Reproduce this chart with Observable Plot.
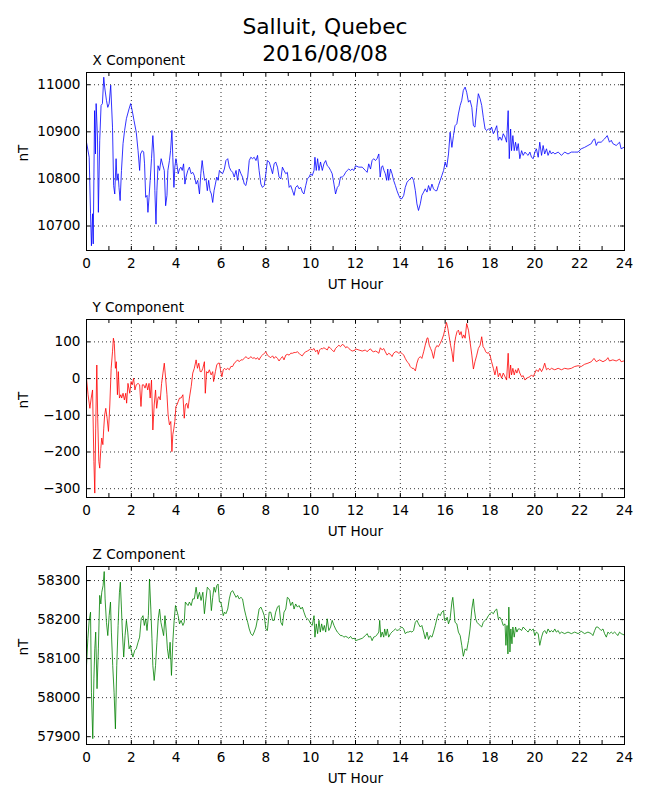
<!DOCTYPE html>
<html>
<head>
<meta charset="utf-8">
<script src="https://cdn.jsdelivr.net/npm/d3@7"></script>
<script src="https://cdn.jsdelivr.net/npm/@observablehq/plot@0.6"></script>
<style>
  html, body { margin: 0; padding: 0; background: #fff; }
  #page { position: relative; width: 650px; height: 800px; font-family: "DejaVu Sans", sans-serif; }
  .title { position: absolute; left: 0; width: 650px; text-align: center; font-size: 21.8px; line-height: 27px; color: #000; z-index: 2; }
  #plots { position: absolute; left: 0; top: 50px; width: 650px; z-index: 1; }
  #plots svg { display: block; background: transparent !important; }
</style>
</head>
<body>
<div id="page">
  <div id="plots"></div>
  <div class="title" id="t1" style="top:13px"></div>
  <div class="title" id="t2" style="top:40px"></div>
</div>
<script>
const titleText = ["Salluit, Quebec", "2016/08/08"];
const panelTitles = ["X Component", "Y Component", "Z Component"];
const xTickLabels = [0, 2, 4, 6, 8, 10, 12, 14, 16, 18, 20, 22, 24];
const gridHours = [2, 4, 6, 8, 10, 12, 14, 16, 18, 20, 22];
const minorHours = [0, 1, 2, 3, 4, 5, 6, 7, 8, 9, 10, 11, 12, 13, 14, 15, 16, 17, 18, 19, 20, 21, 22, 23, 24];
const xTicksY = [10700, 10800, 10900, 11000];
const yTicksY = [-300, -200, -100, 0, 100];
const zTicksY = [57900, 58000, 58100, 58200, 58300];

// [UT hour, nT]
const xComponent = [[0,10878],[0.12,10846],[0.18,10726],[0.22,10658],[0.27,10726],[0.30,10662],[0.36,10945],[0.40,10853],[0.43,10960],[0.49,10889],[0.53,10729],[0.59,10882],[0.65,10956],[0.71,10960],[0.77,11016],[0.81,10995],[0.89,10967],[0.95,10952],[1.01,10960],[1.08,10999],[1.16,10910],[1.21,10786],[1.26,10768],[1.32,10843],[1.36,10797],[1.41,10811],[1.45,10782],[1.50,10754],[1.56,10818],[1.63,10875],[1.70,10903],[1.78,10928],[1.90,10949],[1.97,10960],[2.04,10945],[2.12,10924],[2.22,10899],[2.30,10860],[2.37,10818],[2.41,10853],[2.49,10860],[2.55,10857],[2.59,10832],[2.64,10761],[2.70,10765],[2.74,10729],[2.79,10761],[2.84,10797],[2.90,10843],[2.96,10892],[3.01,10853],[3.05,10775],[3.10,10704],[3.14,10775],[3.19,10828],[3.26,10818],[3.33,10843],[3.41,10828],[3.47,10818],[3.53,10743],[3.59,10765],[3.63,10818],[3.70,10839],[3.75,10860],[3.81,10903],[3.85,10846],[3.90,10782],[3.94,10825],[3.99,10843],[4.03,10832],[4.09,10811],[4.15,10821],[4.21,10825],[4.27,10818],[4.33,10832],[4.39,10789],[4.44,10804],[4.52,10818],[4.59,10825],[4.67,10811],[4.74,10814],[4.81,10807],[4.89,10789],[4.96,10797],[5.04,10768],[5.10,10811],[5.16,10839],[5.21,10818],[5.27,10797],[5.33,10800],[5.39,10775],[5.45,10797],[5.51,10775],[5.57,10768],[5.63,10750],[5.69,10775],[5.75,10789],[5.81,10804],[5.87,10797],[5.93,10818],[6.00,10814],[6.07,10811],[6.15,10821],[6.22,10839],[6.30,10843],[6.37,10825],[6.44,10818],[6.52,10814],[6.59,10804],[6.67,10818],[6.74,10797],[6.81,10821],[6.89,10811],[6.96,10804],[7.04,10789],[7.11,10786],[7.19,10804],[7.26,10839],[7.33,10846],[7.41,10843],[7.48,10846],[7.56,10839],[7.63,10850],[7.70,10818],[7.78,10789],[7.85,10782],[7.93,10786],[8.00,10811],[8.07,10839],[8.15,10836],[8.22,10825],[8.30,10811],[8.37,10832],[8.44,10836],[8.52,10825],[8.59,10804],[8.67,10800],[8.74,10825],[8.81,10818],[8.89,10811],[8.96,10814],[9.04,10782],[9.11,10786],[9.19,10775],[9.26,10765],[9.33,10782],[9.41,10786],[9.48,10779],[9.56,10782],[9.63,10772],[9.70,10768],[9.78,10786],[9.85,10800],[9.93,10804],[10.00,10811],[10.07,10807],[10.15,10818],[10.19,10846],[10.25,10818],[10.31,10843],[10.37,10818],[10.44,10836],[10.52,10818],[10.59,10832],[10.67,10839],[10.74,10828],[10.81,10825],[10.89,10818],[10.96,10811],[11.04,10789],[11.11,10768],[11.19,10782],[11.26,10786],[11.33,10804],[11.41,10804],[11.48,10807],[11.56,10814],[11.63,10818],[11.70,10821],[11.78,10818],[11.85,10821],[11.93,10818],
[12.00,10828],[12.15,10825],[12.30,10825],[12.44,10818],[12.52,10814],[12.59,10832],[12.67,10821],[12.74,10839],[12.81,10843],[12.89,10839],[12.96,10843],[13.04,10853],[13.10,10804],[13.16,10825],[13.21,10828],[13.27,10818],[13.33,10811],[13.39,10797],[13.44,10821],[13.48,10797],[13.56,10821],[13.63,10811],[13.70,10797],[13.78,10786],[13.85,10775],[13.93,10765],[14.00,10758],[14.07,10758],[14.15,10765],[14.22,10782],[14.30,10793],[14.37,10797],[14.44,10800],[14.52,10804],[14.59,10797],[14.67,10775],[14.74,10747],[14.81,10733],[14.89,10747],[14.96,10765],[15.04,10772],[15.11,10779],[15.19,10772],[15.26,10786],[15.33,10775],[15.41,10789],[15.48,10779],[15.56,10775],[15.63,10775],[15.70,10786],[15.78,10797],[15.85,10807],[15.93,10818],[16.00,10836],[16.07,10825],[16.15,10853],[16.22,10899],[16.30,10867],[16.37,10892],[16.44,10913],[16.52,10917],[16.59,10938],[16.67,10956],[16.74,10967],[16.81,10988],[16.89,10995],[16.96,10984],[17.04,10963],[17.11,10967],[17.19,10952],[17.26,10913],[17.33,10910],[17.41,10952],[17.48,10981],[17.56,10970],[17.63,10956],[17.70,10931],[17.78,10906],[17.85,10903],[17.93,10906],[18.00,10903],[18.07,10910],[18.15,10896],[18.22,10903],[18.30,10913],[18.37,10882],[18.44,10889],[18.52,10882],[18.59,10896],[18.67,10889],[18.74,10878],[18.81,10945],[18.86,10843],[18.92,10906],[18.96,10860],[19.02,10892],[19.08,10860],[19.14,10878],[19.20,10860],[19.26,10875],[19.33,10843],[19.41,10860],[19.48,10850],[19.56,10857],[19.63,10853],[19.70,10850],[19.78,10857],[19.85,10846],[19.93,10843],[20.00,10857],[20.07,10864],[20.15,10846],[20.22,10878],[20.30,10850],[20.37,10871],[20.44,10853],[20.52,10864],[20.59,10850],[20.67,10860],[20.74,10853],[20.81,10857],[20.89,10853],[21.04,10857],[21.19,10850],[21.33,10857],[21.48,10853],[21.63,10857],[21.78,10857],[21.93,10857],[22.07,10864],[22.22,10867],[22.37,10871],[22.52,10875],[22.59,10882],[22.67,10885],[22.74,10871],[22.81,10878],[22.96,10878],[23.11,10885],[23.23,10892],[23.33,10878],[23.41,10882],[23.48,10875],[23.63,10871],[23.78,10878],[23.85,10864],[23.97,10867]];

const yComponent = [[0,1],[0.07,-44],[0.15,-81],[0.21,-53],[0.27,-31],[0.33,-226],[0.37,-312],[0.41,-135],[0.46,37],[0.50,-108],[0.55,-226],[0.59,-244],[0.64,-190],[0.68,-162],[0.73,-180],[0.77,-135],[0.81,-99],[0.86,-81],[0.92,-108],[0.98,-144],[1.04,-72],[1.10,28],[1.16,73],[1.20,110],[1.24,96],[1.29,28],[1.33,46],[1.38,-44],[1.42,19],[1.47,-53],[1.53,-44],[1.57,-53],[1.63,-40],[1.69,-58],[1.75,-40],[1.79,-67],[1.85,-13],[1.93,-40],[1.99,-8],[2.04,-17],[2.10,1],[2.16,-31],[2.22,-17],[2.30,-13],[2.37,-17],[2.43,-76],[2.49,-17],[2.55,-17],[2.61,-26],[2.67,-13],[2.73,-31],[2.79,-13],[2.84,-53],[2.90,-4],[2.96,-140],[3.02,-72],[3.08,-31],[3.13,-81],[3.19,-53],[3.23,-49],[3.29,-58],[3.35,-13],[3.41,15],[3.47,42],[3.53,1],[3.59,-44],[3.64,-99],[3.70,-126],[3.76,-117],[3.81,-199],[3.85,-153],[3.90,-135],[3.94,-117],[3.99,-76],[4.03,-72],[4.09,-63],[4.15,-53],[4.22,-53],[4.30,-44],[4.36,-108],[4.41,-72],[4.47,-67],[4.53,-81],[4.59,-53],[4.67,-22],[4.74,15],[4.81,28],[4.89,51],[4.95,28],[5.01,42],[5.07,19],[5.13,19],[5.19,28],[5.26,46],[5.30,-40],[5.36,19],[5.42,15],[5.48,24],[5.56,10],[5.63,19],[5.67,-8],[5.75,19],[5.81,37],[5.87,42],[5.93,42],[5.99,19],[6.04,5],[6.10,24],[6.16,28],[6.22,24],[6.30,28],[6.37,24],[6.44,33],[6.52,33],[6.59,42],[6.67,46],[6.74,51],[6.81,46],[6.89,51],[6.96,51],[7.04,55],[7.11,60],[7.19,55],[7.26,55],[7.33,60],[7.41,55],[7.48,57],[7.56,53],[7.63,57],[7.70,51],[7.78,60],[7.85,64],[7.93,69],[8.00,73],[8.07,64],[8.15,60],[8.22,57],[8.30,62],[8.37,55],[8.44,60],[8.52,55],[8.59,48],[8.67,55],[8.74,60],[8.81,51],[8.89,64],[8.96,66],[9.04,64],[9.11,69],[9.19,69],[9.26,71],[9.33,71],[9.41,73],[9.48,69],[9.56,64],[9.63,62],[9.70,69],[9.78,73],[9.85,75],[9.93,78],[10.00,81],[10.07,78],[10.15,82],[10.22,73],[10.30,78],[10.34,66],[10.40,78],[10.46,82],[10.52,81],[10.59,84],[10.67,81],[10.74,78],[10.81,87],[10.89,82],[10.96,78],[11.04,73],[11.11,82],[11.19,87],[11.26,91],[11.33,87],[11.41,93],[11.48,91],[11.56,84],[11.63,87],[11.70,82],[11.78,78],[11.85,75],[11.97,77],
[12.00,81],[12.15,78],[12.30,75],[12.44,78],[12.52,73],[12.59,78],[12.67,81],[12.74,75],[12.81,73],[12.89,75],[12.96,73],[13.04,69],[13.11,84],[13.19,78],[13.26,82],[13.33,73],[13.41,64],[13.48,69],[13.56,66],[13.63,60],[13.70,69],[13.78,73],[13.85,73],[13.93,69],[14.00,71],[14.07,69],[14.15,64],[14.22,55],[14.30,46],[14.37,42],[14.44,33],[14.52,28],[14.59,28],[14.67,21],[14.74,42],[14.81,55],[14.89,60],[14.96,55],[15.04,73],[15.11,91],[15.19,110],[15.23,111],[15.29,91],[15.35,82],[15.41,73],[15.48,55],[15.56,82],[15.63,90],[15.70,87],[15.78,96],[15.85,105],[15.93,119],[16.00,137],[16.06,153],[16.12,137],[16.18,114],[16.24,91],[16.30,73],[16.36,46],[16.41,91],[16.47,114],[16.53,128],[16.59,132],[16.65,119],[16.71,128],[16.77,110],[16.83,119],[16.89,110],[16.96,150],[17.04,132],[17.11,100],[17.19,64],[17.26,26],[17.33,46],[17.41,64],[17.48,82],[17.56,91],[17.63,114],[17.69,87],[17.75,82],[17.81,73],[17.87,69],[17.93,71],[18.00,64],[18.07,46],[18.15,28],[18.22,10],[18.30,33],[18.37,5],[18.44,15],[18.52,1],[18.59,15],[18.67,5],[18.74,-4],[18.81,69],[18.86,1],[18.92,37],[18.96,10],[19.02,28],[19.08,10],[19.14,24],[19.20,15],[19.26,28],[19.33,15],[19.41,5],[19.48,8],[19.56,-4],[19.63,1],[19.70,3],[19.78,5],[19.85,10],[19.93,5],[20.00,15],[20.07,24],[20.15,19],[20.22,28],[20.30,19],[20.37,28],[20.44,42],[20.52,24],[20.59,28],[20.67,24],[20.74,28],[20.89,24],[21.04,28],[21.19,24],[21.33,28],[21.48,26],[21.63,28],[21.78,33],[21.93,35],[22.07,33],[22.22,39],[22.37,42],[22.52,46],[22.64,55],[22.74,46],[22.89,51],[23.04,46],[23.19,51],[23.26,57],[23.33,48],[23.48,51],[23.63,48],[23.78,53],[23.85,46],[23.97,48]];

const zComponent = [[0,58082],[0.06,58151],[0.12,58198],[0.18,58219],[0.22,58014],[0.28,57895],[0.33,58048],[0.37,58125],[0.41,58168],[0.47,58023],[0.53,58125],[0.59,58262],[0.64,58240],[0.68,58270],[0.74,58287],[0.79,58323],[0.83,58253],[0.89,58193],[0.95,58159],[1.01,58210],[1.07,58245],[1.11,58168],[1.17,58082],[1.23,58014],[1.29,57920],[1.35,58082],[1.41,58185],[1.47,58270],[1.51,58296],[1.56,58227],[1.60,58168],[1.66,58104],[1.72,58159],[1.78,58198],[1.84,58168],[1.90,58125],[1.96,58134],[2.01,58117],[2.07,58104],[2.15,58121],[2.22,58125],[2.30,58142],[2.37,58155],[2.44,58202],[2.52,58210],[2.58,58185],[2.64,58202],[2.70,58172],[2.76,58210],[2.81,58304],[2.87,58227],[2.92,58151],[2.96,58082],[3.02,58044],[3.08,58082],[3.14,58142],[3.20,58202],[3.26,58227],[3.32,58193],[3.38,58176],[3.44,58159],[3.50,58210],[3.56,58168],[3.61,58125],[3.67,58100],[3.73,58142],[3.79,58057],[3.85,58142],[3.91,58198],[3.97,58236],[4.03,58223],[4.09,58210],[4.15,58189],[4.22,58198],[4.30,58185],[4.36,58193],[4.41,58245],[4.47,58240],[4.53,58236],[4.59,58245],[4.67,58236],[4.74,58253],[4.81,58253],[4.89,58283],[4.96,58253],[5.04,58270],[5.11,58249],[5.19,58270],[5.26,58215],[5.33,58253],[5.39,58283],[5.45,58279],[5.51,58274],[5.57,58223],[5.63,58257],[5.69,58283],[5.75,58270],[5.81,58287],[5.87,58291],[5.93,58245],[5.99,58245],[6.04,58232],[6.10,58210],[6.16,58219],[6.22,58215],[6.30,58227],[6.37,58253],[6.44,58270],[6.52,58274],[6.59,58266],[6.67,58257],[6.74,58262],[6.81,58253],[6.89,58257],[6.96,58253],[7.04,58227],[7.11,58210],[7.19,58193],[7.26,58176],[7.33,58164],[7.41,58159],[7.48,58168],[7.56,58181],[7.63,58202],[7.70,58227],[7.78,58232],[7.85,58223],[7.93,58210],[8.00,58176],[8.07,58172],[8.15,58219],[8.22,58219],[8.30,58198],[8.37,58198],[8.44,58219],[8.52,58232],[8.59,58236],[8.67,58193],[8.74,58185],[8.81,58219],[8.89,58227],[8.96,58257],[9.04,58253],[9.11,58236],[9.19,58245],[9.26,58227],[9.33,58240],[9.41,58232],[9.48,58236],[9.56,58227],[9.63,58232],[9.70,58219],[9.78,58206],[9.85,58202],[9.93,58198],[10.00,58189],[10.07,58185],[10.15,58210],[10.19,58155],[10.25,58189],[10.31,58164],[10.37,58198],[10.43,58168],[10.49,58189],[10.55,58172],[10.61,58185],[10.67,58168],[10.74,58202],[10.81,58172],[10.89,58181],[10.96,58198],[11.04,58185],[11.11,58176],[11.19,58168],[11.26,58164],[11.33,58159],[11.41,58159],[11.48,58155],[11.56,58157],[11.63,58155],[11.70,58152],[11.78,58157],[11.85,58151],[11.97,58152],
[12.00,58146],[12.15,58149],[12.30,58152],[12.44,58159],[12.52,58164],[12.59,58155],[12.67,58157],[12.74,58146],[12.81,58155],[12.89,58157],[12.96,58161],[13.04,58168],[13.08,58198],[13.13,58155],[13.19,58168],[13.26,58155],[13.30,58176],[13.36,58159],[13.42,58176],[13.48,58155],[13.56,58164],[13.63,58168],[13.70,58172],[13.78,58176],[13.85,58172],[13.93,58174],[14.00,58178],[14.07,58181],[14.15,58176],[14.22,58164],[14.30,58168],[14.37,58168],[14.44,58170],[14.52,58168],[14.59,58172],[14.67,58193],[14.74,58198],[14.81,58189],[14.89,58181],[14.96,58185],[15.04,58168],[15.11,58151],[15.19,58168],[15.26,58149],[15.33,58159],[15.41,58155],[15.48,58168],[15.56,58185],[15.63,58202],[15.70,58215],[15.78,58210],[15.85,58219],[15.93,58223],[15.97,58198],[16.03,58198],[16.09,58206],[16.15,58189],[16.22,58202],[16.30,58245],[16.34,58257],[16.39,58227],[16.44,58193],[16.52,58189],[16.59,58168],[16.67,58159],[16.74,58134],[16.81,58106],[16.89,58125],[16.96,58121],[17.04,58146],[17.11,58176],[17.19,58227],[17.26,58253],[17.30,58227],[17.36,58202],[17.42,58193],[17.48,58189],[17.56,58185],[17.63,58181],[17.70,58193],[17.78,58198],[17.85,58202],[17.93,58210],[18.00,58215],[18.07,58219],[18.15,58215],[18.22,58223],[18.30,58227],[18.37,58202],[18.44,58206],[18.52,58198],[18.59,58185],[18.67,58189],[18.71,58134],[18.76,58185],[18.80,58112],[18.84,58232],[18.89,58117],[18.93,58176],[18.98,58138],[19.02,58181],[19.08,58155],[19.14,58181],[19.20,58168],[19.26,58176],[19.33,58176],[19.41,58172],[19.48,58181],[19.56,58176],[19.63,58172],[19.70,58168],[19.78,58176],[19.85,58172],[19.93,58176],[20.00,58159],[20.07,58168],[20.15,58164],[20.22,58134],[20.30,58155],[20.37,58168],[20.44,58172],[20.52,58164],[20.59,58176],[20.67,58168],[20.74,58172],[20.81,58168],[20.89,58176],[20.96,58168],[21.04,58172],[21.11,58164],[21.19,58168],[21.33,58164],[21.48,58168],[21.63,58164],[21.78,58168],[21.93,58164],[22.07,58170],[22.22,58164],[22.37,58168],[22.52,58164],[22.59,58159],[22.67,58172],[22.74,58181],[22.81,58181],[22.89,58176],[22.96,58172],[23.04,58176],[23.11,58164],[23.19,58155],[23.26,58168],[23.33,58164],[23.41,58168],[23.48,58164],[23.56,58168],[23.63,58164],[23.70,58159],[23.78,58168],[23.85,58164],[23.97,58161]];

document.getElementById("t1").textContent = titleText[0];
document.getElementById("t2").textContent = titleText[1];

const fmt = d3.format("d");

function panel(data, color, domain, yTicks, title) {
  const frameH = 178, frameW = 538, tick = 4;
  return Plot.plot({
    width: 650, height: 247,
    marginLeft: 86, marginRight: 26, marginTop: 22, marginBottom: 47,
    style: {fontFamily: "DejaVu Sans, sans-serif", fontSize: "13.6px", color: "#000", background: "transparent", overflow: "visible"},
    x: {domain: [0, 24]},
    y: {domain},
    marks: [
      Plot.ruleX(gridHours, {x: d => d, stroke: "#000", strokeWidth: 0.8, strokeDasharray: "1,3"}),
      Plot.ruleY(yTicks, {y: d => d, stroke: "#000", strokeWidth: 0.8, strokeDasharray: "1,3"}),
      Plot.line(data, {x: d => d[0], y: d => d[1], stroke: color, strokeWidth: 0.8}),
      Plot.tickX(minorHours, {x: d => d, insetTop: frameH - tick, stroke: "#000"}),
      Plot.tickX(minorHours, {x: d => d, insetBottom: frameH - tick, stroke: "#000"}),
      Plot.tickY(yTicks, {y: d => d, insetRight: frameW - tick, stroke: "#000"}),
      Plot.tickY(yTicks, {y: d => d, insetLeft: frameW - tick, stroke: "#000"}),
      Plot.frame({stroke: "#000", strokeWidth: 1}),
      Plot.axisX({ticks: xTickLabels, tickSize: 0, tickPadding: 8, tickFormat: fmt, label: null}),
      Plot.axisY({ticks: yTicks, tickSize: 0, tickPadding: 6, tickFormat: fmt, label: null}),
      Plot.text(["UT Hour"], {text: d => d, frameAnchor: "bottom", dy: 34, lineAnchor: "middle", fill: "#000"}),
      Plot.text(["nT"], {text: d => d, frameAnchor: "left", dx: -63, rotate: -90, lineAnchor: "middle", fill: "#000"}),
      Plot.text([title], {text: d => d, frameAnchor: "top-left", dx: 6, dy: -8, textAnchor: "start", lineAnchor: "bottom", fill: "#000"})
    ]
  });
}

const plots = document.getElementById("plots");
plots.append(panel(xComponent, "#0000ff", [10648, 11026], xTicksY, panelTitles[0]));
plots.append(panel(yComponent, "#ff0000", [-324, 161], yTicksY, panelTitles[1]));
plots.append(panel(zComponent, "#008000", [57880, 58336], zTicksY, panelTitles[2]));
</script>
</body>
</html>
